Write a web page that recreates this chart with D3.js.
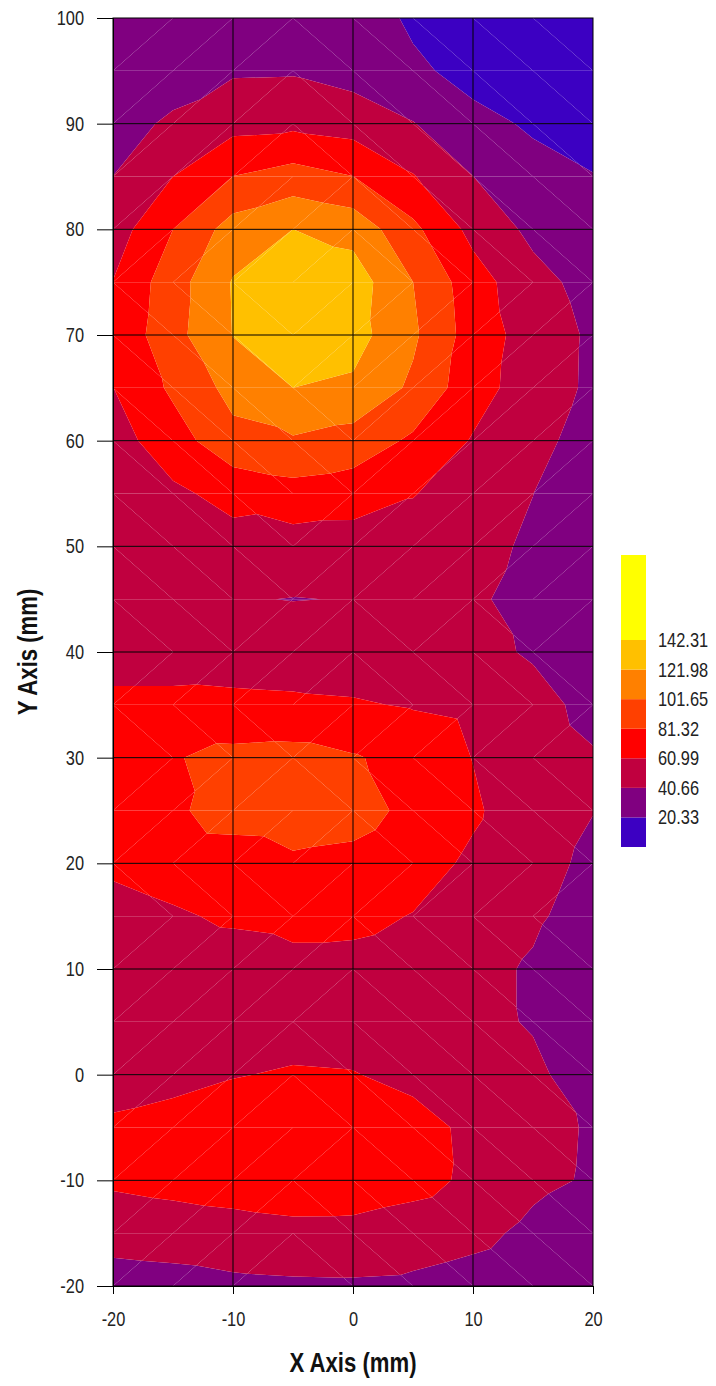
<!DOCTYPE html>
<html><head><meta charset="utf-8">
<script src="https://cdn.jsdelivr.net/npm/d3@7"></script>
<style>
body{margin:0;background:#fff}
text{font-family:"Liberation Sans Narrow","Liberation Sans",Arial,sans-serif}
</style>
</head><body><svg id="chart" width="716" height="1386"></svg>
<script>
// ---- data ----
const xValues = [-20, -15, -10, -5, 0, 5, 10, 15, 20];
const yValues = [100, 95, 90, 85, 80, 75, 70, 65, 60, 55, 50, 45, 40, 35, 30, 25, 20, 15, 10, 5, 0, -5, -10, -15, -20];
// one row per y value (top to bottom), columns follow xValues
const zValues = [
  [28, 30, 33, 35, 32, 16.9, 10, 6, 5],
  [32, 35, 38.4, 38.9, 33, 24, 14, 10, 7],
  [36, 42.6, 54.5, 56.3, 52.2, 41.5, 25.7, 18, 12],
  [40.7, 61, 81.5, 89.6, 81.5, 62.2, 40.8, 26.3, 21],
  [51, 81.3, 110.3, 122, 115.1, 86.1, 55, 36, 24],
  [61.4, 93, 123.3, 136, 132.3, 101.7, 70, 47.1, 33.7],
  [65, 95, 122.5, 138, 130, 105, 72, 52, 37.5],
  [60.8, 85, 108, 122, 118.5, 98, 69, 51, 37.2],
  [53, 72, 95.8, 99.4, 93.3, 77.9, 59.5, 47, 31.9],
  [48, 57.5, 66.8, 73.6, 70.3, 62, 50, 40.8, 28],
  [45, 50, 54.2, 51.9, 51.7, 50.9, 46, 38, 26],
  [45, 46, 41.8, 40.2, 41.2, 44, 44, 33, 26],
  [52, 52, 53, 52, 50, 48, 45, 39, 29],
  [66, 66, 64.8, 64, 62.8, 59.5, 56, 46, 36],
  [72, 80, 87.1, 88.7, 82.9, 75, 60.5, 48, 42],
  [73, 78, 90, 91, 88, 77, 64, 48, 41],
  [65, 70, 71.1, 78.3, 76.5, 70, 57.2, 46, 37.4],
  [53, 58.5, 64, 66, 66, 60.2, 48, 43, 34],
  [47, 50, 51, 56, 54.9, 52, 45, 39, 28],
  [46, 48, 50, 52, 50, 48, 46, 39, 29],
  [52, 55, 60, 63, 62, 55, 50, 45, 29.7],
  [64.5, 68.6, 72.5, 76, 74, 69.3, 56, 46, 39],
  [64, 67, 70, 73, 72, 68, 57, 45, 38.6],
  [49, 51.2, 53.3, 55.4, 55.3, 50.5, 46, 36, 28],
  [31, 32.7, 36.2, 37.4, 37.9, 36.8, 32.6, 28, 22]
];
const levels = [20.33, 40.66, 60.99, 81.32, 101.65, 121.98, 142.31];
const levelLabels = ["20.33", "40.66", "60.99", "81.32", "101.65", "121.98", "142.31"];
const bandColors = ["#3c00c2", "#800080", "#c0003f", "#ff0000", "#ff4000", "#ff8000", "#ffc000", "#ffff00"];
const xTicks = [-20, -10, 0, 10, 20];
const yTicks = [-20, -10, 0, 10, 20, 30, 40, 50, 60, 70, 80, 90, 100];
const xTitle = "X Axis (mm)";
const yTitle = "Y Axis (mm)";
const legendMax = 200.75;

// ---- layout ----
const svg = d3.select("#chart");
const plot = {left: 113, right: 593, top: 18, bottom: 1286};
const x = d3.scaleLinear().domain([-20, 20]).range([plot.left, plot.right]);
const y = d3.scaleLinear().domain([-20, 100]).range([plot.bottom, plot.top]);
const narrow = 0.82;

// points
const pts = [];
yValues.forEach((yv, r) => xValues.forEach((xv, c) => pts.push({x: xv, y: yv, z: zValues[r][c]})));
const delaunay = d3.Delaunay.from(pts, d => x(d.x), d => y(d.y));
const tri = delaunay.triangles;

function clip(poly, L, keepAbove) {
  const out = [];
  for (let i = 0; i < poly.length; i++) {
    const a = poly[i], b = poly[(i + 1) % poly.length];
    const ina = keepAbove ? a.z >= L : a.z < L;
    const inb = keepAbove ? b.z >= L : b.z < L;
    if (ina) out.push(a);
    if (ina !== inb) {
      const t = (L - a.z) / (b.z - a.z);
      out.push({x: a.x + t * (b.x - a.x), y: a.y + t * (b.y - a.y), z: L});
    }
  }
  return out;
}

const bounds = [-Infinity, ...levels, Infinity];
const pieces = [];
for (let i = 0; i < tri.length; i += 3) {
  const t = [pts[tri[i]], pts[tri[i + 1]], pts[tri[i + 2]]];
  for (let b = 0; b < bounds.length - 1; b++) {
    let p = t;
    if (bounds[b] > -Infinity) p = clip(p, bounds[b], true);
    if (p.length < 3) continue;
    if (bounds[b + 1] < Infinity) p = clip(p, bounds[b + 1], false);
    if (p.length < 3) continue;
    pieces.push({band: b, poly: p});
  }
}

svg.append("g").selectAll("path").data(pieces).join("path")
  .attr("d", d => "M" + d.poly.map(p => x(p.x) + "," + y(p.y)).join("L") + "Z")
  .attr("fill", d => bandColors[d.band]);

// grid lines
const grid = svg.append("g").attr("stroke", "#000").attr("stroke-width", 1);
grid.selectAll("line.v").data(xTicks.slice(1, -1)).join("line")
  .attr("x1", d => x(d)).attr("x2", d => x(d)).attr("y1", plot.top).attr("y2", plot.bottom);
grid.selectAll("line.h").data(yTicks.slice(1, -1)).join("line")
  .attr("y1", d => y(d)).attr("y2", d => y(d)).attr("x1", plot.left).attr("x2", plot.right);
svg.append("rect").attr("x", plot.left).attr("y", plot.top)
  .attr("width", plot.right - plot.left).attr("height", plot.bottom - plot.top)
  .attr("fill", "none").attr("stroke", "#000").attr("stroke-width", 1);

// axes
const yAxis = svg.append("g").attr("transform", `translate(${plot.left},0)`)
  .call(d3.axisLeft(y).tickValues(yTicks).tickSize(16).tickPadding(13).tickFormat(d3.format("d")));
const xAxis = svg.append("g").attr("transform", `translate(0,${plot.bottom})`)
  .call(d3.axisBottom(x).tickValues(xTicks).tickSize(8).tickPadding(18).tickFormat(d3.format("d")));
[xAxis, yAxis].forEach(a => {
  a.select(".domain").attr("stroke", "#000");
  a.selectAll(".tick line").attr("stroke", "#000");
  a.selectAll(".tick text").attr("fill", "#222").style("font-size", "20px")
    .style("font-family", '"Liberation Sans Narrow","Liberation Sans",Arial,sans-serif')
    .text(d => String(d).replace("\u2212", "-"));
});
// condense tick labels with a horizontal scale about their anchor
yAxis.selectAll(".tick text").each(function () {
  const tx = +d3.select(this).attr("x");
  d3.select(this).attr("x", null).attr("transform", `translate(${tx},0) scale(${narrow},1)`);
});
xAxis.selectAll(".tick text").attr("transform", `scale(${narrow},1)`);

svg.append("text").attr("transform", `translate(${(plot.left + plot.right) / 2},1372) scale(${narrow},1)`)
  .attr("text-anchor", "middle").attr("font-weight", "bold").attr("font-size", 27).attr("fill", "#111").text(xTitle);
svg.append("text").attr("transform", `translate(36.5,${(plot.top + plot.bottom) / 2}) rotate(-90) scale(${narrow},1)`)
  .attr("text-anchor", "middle").attr("font-weight", "bold").attr("font-size", 27).attr("fill", "#111").text(yTitle);

// legend
const legendY = d3.scaleLinear().domain([0, legendMax]).range([847, 555]);
const legendStops = [0, ...levels, legendMax];
const lg = svg.append("g");
lg.selectAll("rect").data(bandColors).join("rect")
  .attr("x", 621).attr("width", 25)
  .attr("y", (d, i) => legendY(legendStops[i + 1]))
  .attr("height", (d, i) => legendY(legendStops[i]) - legendY(legendStops[i + 1]))
  .attr("fill", d => d);
lg.selectAll("text").data(levels).join("text")
  .attr("transform", d => `translate(658,${legendY(d)}) scale(${narrow},1)`)
  .attr("dy", "0.35em")
  .attr("font-size", 20).attr("fill", "#222")
  .text((d, i) => levelLabels[i]);
</script>
</body></html>
